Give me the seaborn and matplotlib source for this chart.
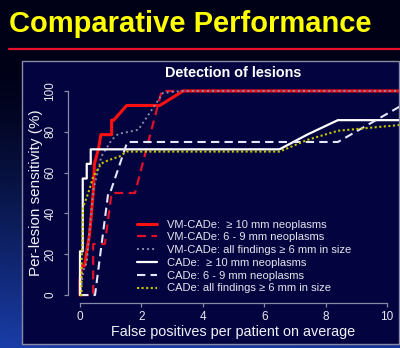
import numpy as np
import pandas as pd
import matplotlib
matplotlib.use("Agg")
import matplotlib.pyplot as plt
import seaborn as sns
from matplotlib.lines import Line2D
from matplotlib.patches import Rectangle

# FROC curves: false positives per patient vs. per-lesion sensitivity (%)
vm_large_fp = [0.0, 0.0, 0.05, 0.15, 0.22, 0.30, 0.35, 0.43, 0.47, 0.60, 0.68, 1.03, 1.03, 1.10, 1.52, 2.60, 3.36, 10.4]
vm_large_sens = [0.0, 7.1, 14.3, 14.3, 21.4, 28.6, 35.7, 50.0, 64.3, 71.4, 78.6, 78.6, 85.7, 85.7, 92.9, 92.9, 100, 100]

vm_small_fp = [0.0, 0.43, 0.43, 0.81, 1.03, 1.79, 2.66, 10.4]
vm_small_sens = [0, 0, 25, 25, 50, 50, 100, 100]

vm_all_fp = [0.0, 0.05, 0.11, 0.22, 0.33, 0.43, 0.60, 0.70, 1.03, 1.25, 1.60, 1.90, 2.17, 2.44, 2.70, 3.30, 10.4]
vm_all_sens = [0, 5, 12, 16, 35, 51, 62, 68, 76, 79, 80, 81, 87, 93, 99, 100, 100]

cad_large_fp = [0.0, 0.0, 0.09, 0.09, 0.22, 0.22, 0.35, 0.35, 6.5, 7.4, 8.4, 10.4]
cad_large_sens = [0, 21.4, 21.4, 57.1, 57.1, 64.3, 64.3, 71.4, 71.4, 78.6, 85.7, 85.7]

cad_small_fp = [0.0, 0.49, 0.92, 0.98, 1.54, 8.4, 11.3]
cad_small_sens = [0, 0, 50, 50, 75, 75, 100]

cad_all_fp = [0.0, 0.05, 0.05, 0.08, 0.10, 0.27, 0.43, 0.70, 0.92, 1.30, 1.52, 6.5, 7.4, 8.4, 10.4]
cad_all_sens = [0, 0, 14, 30, 43, 50, 58, 64.5, 66, 68, 70.3, 70.3, 76, 80.5, 83.3]

legend_labels = [
    "VM-CADe:  \u2265 10 mm neoplasms",
    "VM-CADe: 6 - 9 mm neoplasms",
    "VM-CADe: all findings \u2265 6 mm in size",
    "CADe:  \u2265 10 mm neoplasms",
    "CADe: 6 - 9 mm neoplasms",
    "CADe: all findings \u2265 6 mm in size",
]
x_ticks = [0, 2, 4, 6, 8, 10]
y_ticks = [0, 20, 40, 60, 80, 100]

series = [
    (vm_large_fp, vm_large_sens, dict(color="#ff1010", lw=2.2, ls="-")),
    (vm_small_fp, vm_small_sens, dict(color="#e0102a", lw=1.6, ls=(0, (4, 2.5)))),
    (vm_all_fp, vm_all_sens, dict(color="#8a8aa8", lw=1.4, ls=(0, (1, 1.6)))),
    (cad_large_fp, cad_large_sens, dict(color="#ffffff", lw=1.6, ls="-")),
    (cad_small_fp, cad_small_sens, dict(color="#e6e6ff", lw=1.5, ls=(0, (4, 2.5)))),
    (cad_all_fp, cad_all_sens, dict(color="#c8c800", lw=1.5, ls=(0, (1, 1.2)))),
]

sns.set_style("white")
plt.rcParams["font.family"] = ["Liberation Sans", "DejaVu Sans"]

W, H = 400, 348
fig = plt.figure(figsize=(W / 100, H / 100), dpi=100)

# slide background: dark navy fading to blue towards the bottom
bg = fig.add_axes([0, 0, 1, 1], zorder=-10)
yy, xx = np.mgrid[0:1:200j, 0:1:200j]
t = np.clip((yy - 0.2) / 0.8, 0, 1) ** 1.3 * (1 - 0.15 * xx)
dark = np.array([0.0, 0.0, 0.09])
blue = np.array([0.10, 0.24, 0.66])
img = dark[None, None, :] + t[..., None] * (blue - dark)[None, None, :]
bg.imshow(img, aspect="auto", extent=[0, 1, 1, 0])
bg.set_axis_off()

# slide title and red rule
fig.text(9 / W, 1 - 31.5 / H, "Comparative Performance", color="#ffff00",
         fontsize=21, fontweight="bold", va="baseline", ha="left")
fig.add_artist(Line2D([9 / W, 1], [1 - 49.3 / H] * 2, color="#e8102a", lw=1.6,
                      transform=fig.transFigure))

# chart panel
fig.add_artist(Rectangle((22 / W, 1 - 343.5 / H), (399 - 22) / W, (343.5 - 61) / H,
                         transform=fig.transFigure, facecolor="#03033f",
                         edgecolor="#8a8aa6", lw=1.0, zorder=-5))

ax = fig.add_axes([67.7 / W, 1 - 303.2 / H, 331.6 / W, 220.4 / H])
ax.set_facecolor("none")

handles = []
for (fp, sens, st), lab in zip(series, legend_labels):
    df = pd.DataFrame({"fp": fp, "sens": sens})
    sns.lineplot(data=df, x="fp", y="sens", ax=ax, sort=False, estimator=None,
                 color=st["color"], linewidth=st["lw"], linestyle=st["ls"],
                 legend=False)
    handles.append(Line2D([], [], color=st["color"], lw=st["lw"], ls=st["ls"], label=lab))

ax.set_xlim(-0.4, 10.4)
ax.set_ylim(-4, 104)
ax.set_xticks(x_ticks)
ax.set_yticks(y_ticks)
ax.set_xticklabels([str(v) for v in x_ticks])
ax.set_yticklabels([str(v) for v in y_ticks], rotation=90, va="center")

axis_col = "#8888aa"
for side in ["top", "right"]:
    ax.spines[side].set_visible(False)
ax.spines["left"].set_bounds(0, 100)
ax.spines["bottom"].set_bounds(0, 10)
for side in ["left", "bottom"]:
    ax.spines[side].set_color(axis_col)
    ax.spines[side].set_linewidth(0.9)
ax.tick_params(axis="both", which="major", direction="out", length=3.2, width=0.9,
               color=axis_col, labelcolor="#e8e8f0", labelsize=8.5)
ax.tick_params(axis="x", pad=2.6, bottom=True)
ax.tick_params(axis="y", pad=5.0, left=True)

ax.set_xlabel("False positives per patient on average", color="#f0f0f8", fontsize=10.4)
ax.set_ylabel("Per-lesion sensitivity (%)", color="#f0f0f8", fontsize=11)
ax.xaxis.set_label_coords(0.5, (303.2 - 332) / 220.4)
ax.xaxis.label.set_va("center")
ax.yaxis.set_label_coords((36.5 - 67.7) / 331.6, 0.5)
ax.yaxis.label.set_va("center")

ax.text(0.5, (303.2 - 77.3) / 220.4, "Detection of lesions", transform=ax.transAxes,
        ha="center", va="baseline", color="#ffffff", fontsize=10.4, fontweight="bold")

leg = ax.legend(handles=handles, loc="upper left", frameon=False,
                bbox_to_anchor=(137 / W, 1 - 219.5 / H), bbox_transform=fig.transFigure,
                borderpad=0, borderaxespad=0, fontsize=8, handlelength=1.8,
                handletextpad=0.9, labelspacing=0.25)
for txt in leg.get_texts():
    txt.set_color("#e4e4ee")

fig.savefig("out.png", dpi=100)
